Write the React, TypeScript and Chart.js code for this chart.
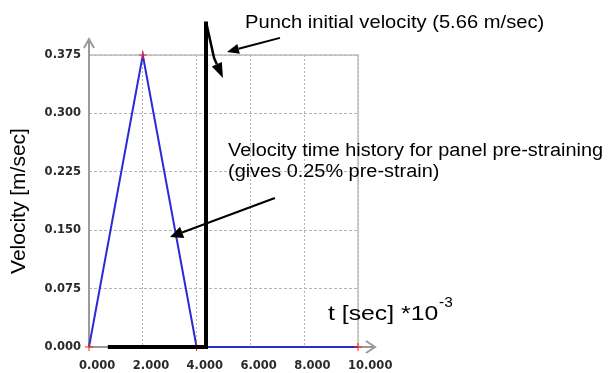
import React, { useEffect, useRef } from "react";
import { Chart, registerables } from "chart.js";

Chart.register(...registerables);

// ---- data (x in units of 10^-3 s, y in m/sec) ----
const xTickValues = [0, 2, 4, 6, 8, 10];
const yTickValues = [0, 0.075, 0.15, 0.225, 0.3, 0.375];
const prestrainTime = [0, 2, 4, 10];
const prestrainVelocity = [0, 0.375, 0, 0];
const punchTime = [0.7, 4.35, 4.35];
const punchVelocity = [0, 0, 0.418];

// annotation arrows, given in data units [t, v]
const punchArrow = [[7.1, 0.397], [5.13, 0.379]];
const hookArrow = [[4.36, 0.416], [4.65, 0.371], [4.98, 0.3455]];
const historyArrow = [[6.91, 0.1914], [3.01, 0.1413]];

const punchLabel = "Punch initial velocity (5.66 m/sec)";
const historyLabel1 = "Velocity time history for panel pre-straining";
const historyLabel2 = "(gives 0.25% pre-strain)";
const xTitleMain = "t [sec] *10";
const xTitleSup = "-3";
const yTitle = "Velocity [m/sec]";

const TEXT_FONT = "'Liberation Sans', Arial, Helvetica, sans-serif";

function drawText(ctx: CanvasRenderingContext2D, text: string, x: number, y: number, size: number, sx: number) {
  ctx.save();
  ctx.translate(x, y);
  ctx.scale(sx, 1);
  ctx.font = `${size}px ${TEXT_FONT}`;
  ctx.fillStyle = "#000";
  ctx.textAlign = "left";
  ctx.textBaseline = "alphabetic";
  ctx.fillText(text, 0, 0);
  ctx.restore();
}

function drawArrow(ctx: CanvasRenderingContext2D, pts: number[][], headLen: number, headHalf: number, width: number) {
  ctx.save();
  ctx.strokeStyle = "#000";
  ctx.fillStyle = "#000";
  ctx.lineWidth = width;
  ctx.lineJoin = "round";
  const n = pts.length;
  const [tx, ty] = pts[n - 1];
  const [px, py] = pts[n - 2];
  const ang = Math.atan2(ty - py, tx - px);
  const bx = tx - Math.cos(ang) * headLen;
  const by = ty - Math.sin(ang) * headLen;
  ctx.beginPath();
  ctx.moveTo(pts[0][0], pts[0][1]);
  for (let i = 1; i < n - 1; i++) ctx.lineTo(pts[i][0], pts[i][1]);
  ctx.lineTo(bx, by);
  ctx.stroke();
  ctx.beginPath();
  ctx.moveTo(tx, ty);
  ctx.lineTo(bx + Math.sin(ang) * headHalf, by - Math.cos(ang) * headHalf);
  ctx.lineTo(bx - Math.sin(ang) * headHalf, by + Math.cos(ang) * headHalf);
  ctx.closePath();
  ctx.fill();
  ctx.restore();
}

const framePlugin = {
  id: "frame",
  beforeDatasetsDraw(chart: any) {
    const { ctx, chartArea: a } = chart;
    ctx.save();
    // light plot frame (top, right)
    ctx.strokeStyle = "#bdbdbd";
    ctx.lineWidth = 1.5;
    ctx.beginPath();
    ctx.moveTo(a.left, a.top);
    ctx.lineTo(a.right, a.top);
    ctx.lineTo(a.right, a.bottom);
    ctx.stroke();
    // axes with open arrow heads
    ctx.strokeStyle = "#9a9a9a";
    ctx.lineWidth = 2;
    ctx.beginPath();
    ctx.moveTo(a.left, a.bottom);
    ctx.lineTo(a.left, a.top - 16);
    ctx.moveTo(a.left - 5, a.top - 7);
    ctx.lineTo(a.left, a.top - 16);
    ctx.lineTo(a.left + 5, a.top - 7);
    ctx.moveTo(a.left, a.bottom);
    ctx.lineTo(a.right + 17, a.bottom);
    ctx.moveTo(a.right + 8, a.bottom - 6);
    ctx.lineTo(a.right + 17, a.bottom);
    ctx.lineTo(a.right + 8, a.bottom + 6);
    ctx.stroke();
    ctx.restore();
  },
  afterDraw(chart: any) {
    const { ctx } = chart;
    const xs = chart.scales.x;
    const ys = chart.scales.y;
    const toPx = (p: number[][]) => p.map(([t, v]) => [xs.getPixelForValue(t), ys.getPixelForValue(v)]);
    drawArrow(ctx, toPx(punchArrow), 12, 5, 2);
    drawArrow(ctx, toPx(hookArrow), 15, 5.5, 2.5);
    drawArrow(ctx, toPx(historyArrow), 13, 6, 2);

    drawText(ctx, punchLabel, 245, 28, 18.5, 1.09);
    drawText(ctx, historyLabel1, 228, 156, 18.8, 1.06);
    drawText(ctx, historyLabel2, 228, 177, 18.8, 1.06);
    drawText(ctx, xTitleMain, 328, 320, 21, 1.18);
    drawText(ctx, xTitleSup, 439, 307, 14, 1.1);
  },
};

export default function App() {
  const ref = useRef<HTMLCanvasElement | null>(null);
  useEffect(() => {
    if (!ref.current) return;
    const tickFont = { family: "'DejaVu Sans', Verdana, sans-serif", size: 11.5, weight: "bold" as const };
    const chart = new Chart(ref.current, {
      type: "scatter",
      data: {
        datasets: [
          {
            data: punchTime.map((t, i) => ({ x: t, y: punchVelocity[i] })),
            showLine: true,
            borderColor: "#000",
            borderWidth: 4,
            pointRadius: 0,
            clip: false as any,
            borderCapStyle: "butt" as const,
            borderJoinStyle: "miter" as const,
          },
          {
            data: prestrainTime.map((t, i) => ({ x: t, y: prestrainVelocity[i] })),
            showLine: true,
            borderColor: "#2a2ad6",
            borderWidth: 2,
            pointStyle: "cross",
            pointRadius: 4,
            pointBorderColor: "#ff2020",
            pointBorderWidth: 1,
            pointBackgroundColor: "#ff2020",
            clip: false as any,
          },
        ],
      },
      options: {
        animation: false,
        responsive: false,
        maintainAspectRatio: false,
        events: [],
        layout: { padding: { top: 55, right: 253, bottom: 0, left: 0 } },
        plugins: { legend: { display: false }, tooltip: { enabled: false } },
        scales: {
          x: {
            type: "linear",
            min: 0,
            max: 10,
            afterFit: (s: any) => { s.height = 26; },
            afterBuildTicks: (s: any) => { s.ticks = xTickValues.map((v) => ({ value: v })); },
            grid: { color: "#b5b5b5", lineWidth: 1, drawTicks: false },
            border: { display: false, dash: [2, 2] },
            ticks: {
              font: tickFont,
              color: "#2a2a2a",
              padding: 12,
              align: "start",
              labelOffset: -10,
              maxRotation: 0,
              autoSkip: false,
              callback: (v: any) => Number(v).toFixed(3),
            },
          },
          y: {
            type: "linear",
            min: 0,
            max: 0.375,
            afterFit: (s: any) => { s.width = 89; },
            afterBuildTicks: (s: any) => { s.ticks = yTickValues.map((v) => ({ value: v })); },
            grid: { color: "#b5b5b5", lineWidth: 1, drawTicks: false },
            border: { display: false, dash: [3, 2] },
            ticks: {
              font: tickFont,
              color: "#2a2a2a",
              padding: 8,
              autoSkip: false,
              callback: (v: any) => Number(v).toFixed(3),
            },
            title: {
              display: true,
              text: yTitle,
              color: "#000",
              font: { family: TEXT_FONT, size: 21 },
              padding: { top: 7, bottom: 0 },
            },
          },
        },
      },
      plugins: [framePlugin],
    });
    return () => chart.destroy();
  }, []);
  return (
    <div style={{ position: "absolute", left: 0, top: 0, width: 611, height: 373, background: "#fff" }}>
      <canvas ref={ref} width={611} height={373} style={{ display: "block", width: 611, height: 373 }} />
    </div>
  );
}
